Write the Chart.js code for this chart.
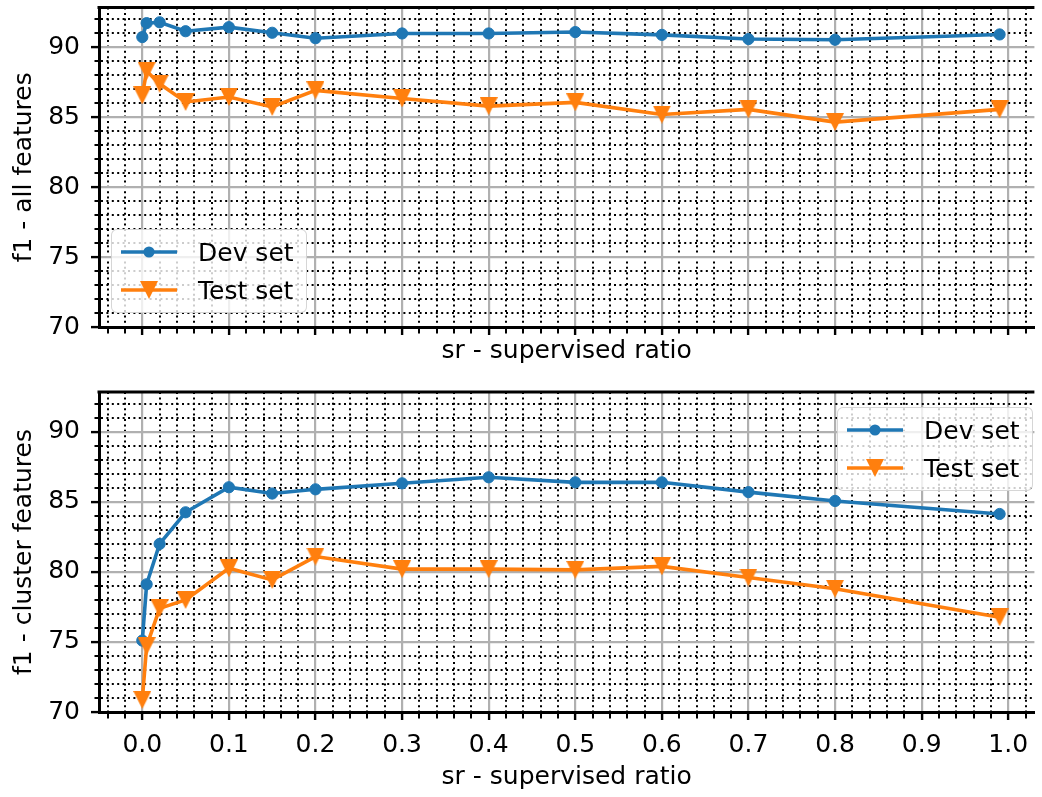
<!DOCTYPE html>
<html>
<head>
<meta charset="utf-8">
<script src="https://cdn.jsdelivr.net/npm/chart.js@4.4.1/dist/chart.umd.min.js"></script>
<style>
  html, body { margin: 0; padding: 0; background: #fff; overflow: hidden; }
  #stage { position: relative; width: 1042px; height: 797px; }
  canvas { position: absolute; left: 0; }
  #allCanvas { top: 0; }
  #clusterCanvas { top: 371px; }
  .legend {
    position: absolute; box-sizing: border-box;
    background: rgba(255,255,255,0.8); border: 1.5px solid rgba(204,204,204,0.8); border-radius: 6px;
    padding: 3px 12px 3px 9px; font: 25px 'DejaVu Sans', sans-serif; color: #000;
  }
  .legend-item { display: flex; align-items: center; height: 38px; white-space: nowrap; }
  .legend-item svg { margin-right: 21px; }
</style>
</head>
<body>
<div id="stage">
  <canvas id="allCanvas" width="1042" height="371"></canvas>
  <canvas id="clusterCanvas" width="1042" height="426"></canvas>
  <div class="legend" id="allLegend" style="left:111px;top:229px"></div>
  <div class="legend" id="clusterLegend" style="left:837px;top:407px"></div>
</div>
<script>
// data
const srValues    = [0, 0.005, 0.02, 0.05, 0.1, 0.15, 0.2, 0.3, 0.4, 0.5, 0.6, 0.7, 0.8, 0.99];
const allDev      = [90.74, 91.74, 91.8, 91.16, 91.45, 91.05, 90.66, 91.0, 91.0, 91.1, 90.9, 90.6, 90.55, 90.93];
const allTest     = [86.57, 88.31, 87.4, 86.1, 86.45, 85.74, 86.93, 86.35, 85.8, 86.07, 85.2, 85.57, 84.66, 85.57];
const clusterDev  = [75.1, 79.12, 82.0, 84.26, 86.05, 85.6, 85.9, 86.33, 86.76, 86.4, 86.4, 85.7, 85.07, 84.14];
const clusterTest = [70.86, 74.7, 77.4, 78.0, 80.26, 79.43, 81.1, 80.2, 80.2, 80.15, 80.4, 79.6, 78.8, 76.76];
const seriesLabels = ['Dev set', 'Test set'];
const xLabel = 'sr - supervised ratio';
const yLabels = ['f1 - all features', 'f1 - cluster features'];

const BLUE = '#1f77b4', ORANGE = '#ff7f0e';
const FONT = "'DejaVu Sans', sans-serif";

const isMajor = (v, step) => Math.abs(v / step - Math.round(v / step)) < 1e-6;

function triangleImage(size, color) {
  const c = document.createElement('canvas'); c.width = size; c.height = size;
  const g = c.getContext('2d');
  g.fillStyle = color; g.beginPath();
  g.moveTo(0, 0); g.lineTo(size, 0); g.lineTo(size / 2, size); g.closePath(); g.fill();
  return c;
}

const topSpine = {
  id: 'topSpine',
  afterDatasetsDraw(chart) {
    const { ctx, chartArea: a } = chart;
    ctx.save(); ctx.strokeStyle = '#000'; ctx.lineWidth = 3;
    ctx.beginPath(); ctx.moveTo(a.left - 1.5, a.top); ctx.lineTo(a.right, a.top); ctx.stroke();
    ctx.restore();
  }
};

function gridFor(step, side) {
  const major = c => c.tick && isMajor(c.tick.value, step);
  return {
    grid: {
      color: c => major(c) ? '#b0b0b0' : '#000',
      lineWidth: c => major(c) ? 2.2 : 2,
      tickColor: '#000', tickLength: 8,
      tickWidth: c => major(c) ? 2.4 : 2,
      tickBorderDash: c => major(c) ? [] : (side === 'x' ? [4.5, 30] : [0, 3.5, 4.5, 30])
    },
    border: { color: '#000', width: 3, dash: c => (!c.tick || major(c)) ? [] : [2, 3.4] }
  };
}

function renderPanel(id, dev, test, yTitle, opt) {
  const ctx = document.getElementById(id);
  const toPts = arr => srValues.map((x, i) => ({ x, y: arr[i] }));
  const xg = gridFor(0.1, 'x'), yg = gridFor(5, 'y');

  return new Chart(ctx, {
    type: 'line',
    data: {
      datasets: [
        { label: seriesLabels[0], data: toPts(dev), borderColor: BLUE, backgroundColor: BLUE, borderWidth: 3.6,
          pointRadius: 5.6, pointBorderWidth: 1, pointStyle: 'circle', order: 1 },
        { label: seriesLabels[1], data: toPts(test), borderColor: ORANGE, backgroundColor: ORANGE, borderWidth: 3.6,
          pointStyle: triangleImage(18, ORANGE), order: 0 }
      ]
    },
    options: {
      responsive: false, animation: false, events: [], devicePixelRatio: 1,
      layout: { padding: { top: opt.padTop, left: 0, right: 0, bottom: 0 } },
      plugins: { legend: { display: false }, tooltip: { enabled: false } },
      scales: {
        x: {
          type: 'linear', min: -0.05, max: 1.0302,
          ...xg,
          ticks: {
            stepSize: 0.02, includeBounds: false, autoSkip: false, maxRotation: 0, minRotation: 0,
            padding: 10, color: '#000', font: { family: FONT, size: 25 },
            callback: v => (opt.xTickLabels && isMajor(v, 0.1)) ? v.toFixed(1) : ''
          },
          title: { display: true, text: xLabel, color: '#000', font: { family: FONT, size: 25 }, padding: { top: 0, bottom: 5 } },
          afterFit: s => { s.height = opt.xAxisHeight; s.paddingLeft = 0; s.paddingRight = 0; }
        },
        y: {
          min: 70, max: 92.85,
          ...yg,
          ticks: {
            stepSize: 1, includeBounds: false, autoSkip: false, padding: 11,
            color: '#000', font: { family: FONT, size: 25 },
            callback: v => isMajor(v, 5) ? String(Math.round(v)) : ''
          },
          title: { display: true, text: yTitle, color: '#000', font: { family: FONT, size: 25 }, padding: { top: 9, bottom: 0 } },
          afterFit: s => { s.width = 99; s.paddingTop = 0; s.paddingBottom = 0; }
        }
      }
    },
    plugins: [topSpine]
  });
}

function handleSvg(i) {
  const color = i === 0 ? BLUE : ORANGE;
  const marker = i === 0
    ? `<circle cx="28" cy="10" r="5.6" fill="${color}"/>`
    : `<polygon points="19,1 37,1 28,19" fill="${color}"/>`;
  return `<svg width="56" height="20"><line x1="0" y1="10" x2="56" y2="10" stroke="${color}" stroke-width="3.6"/>${marker}</svg>`;
}

function renderLegend(id) {
  const el = document.getElementById(id);
  el.innerHTML = seriesLabels.map((l, i) => `<div class="legend-item">${handleSvg(i)}<span>${l}</span></div>`).join('');
}

renderPanel('allCanvas', allDev, allTest, yLabels[0], { padTop: 7, xAxisHeight: 44, xTickLabels: false });
renderPanel('clusterCanvas', clusterDev, clusterTest, yLabels[1], { padTop: 21, xAxisHeight: 85, xTickLabels: true });
renderLegend('allLegend');
renderLegend('clusterLegend');
</script>
</body>
</html>
